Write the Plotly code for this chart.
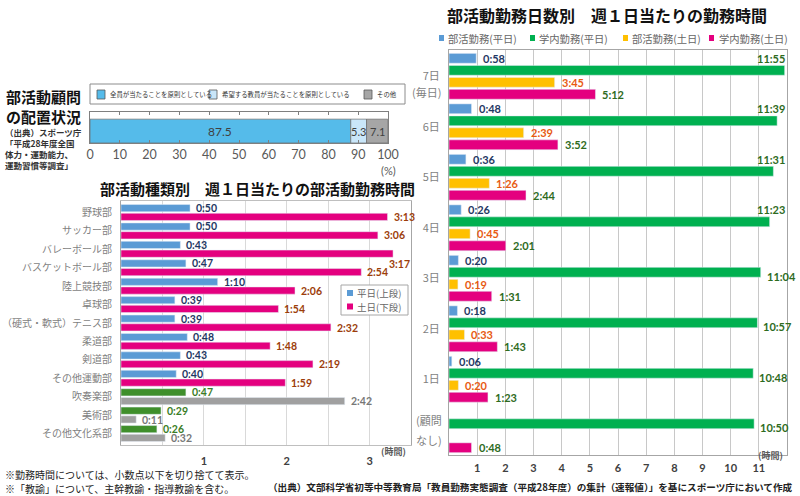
import plotly.graph_objects as go

W, H = 800, 496


def px(x):
    return x / W


def py(y):
    return 1 - y / H


def hours(t):
    if t is None:
        return None
    h, m = t.split(":")
    return int(h) + int(m) / 60


# ---------------- data ----------------
# 部活動顧問の配置状況 (%)
adv_labels = ["全員が当たることを原則としている", "希望する教員が当たることを原則としている", "その他"]
adv_values = [87.5, 5.3, 7.1]
pct_ticks = [0, 10, 20, 30, 40, 50, 60, 70, 80, 90, 100]

# 部活動種類別 週1日当たりの部活動勤務時間
club_names = ["野球部", "サッカー部", "バレーボール部", "バスケットボール部", "陸上競技部", "卓球部",
              "（硬式・軟式）テニス部", "柔道部", "剣道部", "その他運動部", "吹奏楽部", "美術部", "その他文化系部"]
culture_clubs = ["吹奏楽部", "美術部", "その他文化系部"]
club_weekday = ["0:50", "0:50", "0:43", "0:47", "1:10", "0:39", "0:39", "0:48", "0:43", "0:40", "0:47", "0:29", "0:26"]
club_weekend = ["3:13", "3:06", "3:17", "2:54", "2:06", "1:54", "2:32", "1:48", "2:19", "1:59", "2:42", "0:11", "0:32"]
club_legend = ["平日(上段)", "土日(下段)"]
club_hour_ticks = [0.5, 1, 1.5, 2, 2.5, 3, 3.5]
club_hour_text = ["", "1", "", "2", "", "3", ""]

# 部活動勤務日数別 週1日当たりの勤務時間
day_groups = ["7日", "6日", "5日", "4日", "3日", "2日", "1日", "(顧問なし)"]
day_tick_text = ["7日", "6日", "5日", "4日", "3日", "2日", "1日", ""]
series_names = ["部活勤務(平日)", "学内勤務(平日)", "部活勤務(土日)", "学内勤務(土日)"]
club_wd = ["0:58", "0:48", "0:36", "0:26", "0:20", "0:18", "0:06", None]
school_wd = ["11:55", "11:39", "11:31", "11:23", "11:04", "10:57", "10:48", "10:50"]
club_we = ["3:45", "2:39", "1:26", "0:45", "0:19", "0:33", "0:20", None]
school_we = ["5:12", "3:52", "2:44", "2:01", "1:31", "1:43", "1:23", "0:48"]
day_hour_ticks = [0, 1, 2, 3, 4, 5, 6, 7, 8, 9, 10, 11, 12]
day_hour_text = ["", "1", "2", "3", "4", "5", "6", "7", "8", "9", "10", "11", ""]

# ---------------- styles ----------------
CJK = "Noto Sans CJK JP"
NUM = "Lato, Noto Sans CJK JP"
LBL = 10.5
adv_colors = ["#55bbea", "#c9e6f9", "#a6a6a6"]
BLUE, MAGENTA, CGREEN, GRAY = "#5b9bd5", "#e4007f", "#3f8f2b", "#a0a0a0"
R_COLORS = ["#5b9bd5", "#00b050", "#ffc000", "#e4007f"]
R_LABEL = ["#1f3864", "#2e6b1e", "#e85a12", "#2e6b1e"]

fig = go.Figure()
ann = []
shapes = []

# ---------- top-left stacked bar ----------
bases = []
acc = 0
for v in adv_values:
    bases.append(acc)
    acc += v
fig.add_trace(go.Bar(
    x=adv_values, y=[0] * len(adv_values), base=bases, orientation="h", width=1,
    marker=dict(color=adv_colors, line=dict(color="#6b6b6b", width=0.7)),
    xaxis="x", yaxis="y", showlegend=False, hoverinfo="skip"))
for b, v in zip(bases, adv_values):
    ann.append(dict(x=b + v / 2, y=0, xref="x", yref="y", text=f"{v}", showarrow=False,
                    font=dict(family=NUM, size=12 if v > 20 else 11, color="#404040")))

# legend box of top chart
shapes.append(dict(type="rect", xref="paper", yref="paper", x0=px(90), x1=px(405), y0=py(104), y1=py(84),
                   line=dict(color="#8c8c8c", width=1), fillcolor="white", layer="below"))
leg_sq_x = [97, 209, 364]
leg_tx_x = [108, 220, 375]
for lab, col, sx, tx in zip(adv_labels, adv_colors, leg_sq_x, leg_tx_x):
    shapes.append(dict(type="rect", xref="paper", yref="paper", x0=px(sx), x1=px(sx + 8), y0=py(99), y1=py(90),
                       line=dict(color="#595959", width=0.8), fillcolor=col))
    ann.append(dict(x=px(tx), y=py(94.5), xref="paper", yref="paper", text=lab, showarrow=False,
                    xanchor="left", yanchor="middle", font=dict(family=CJK, size=6.4, color="#333333")))

ann.append(dict(x=px(388), y=py(170), xref="paper", yref="paper", text="(%)", showarrow=False,
                font=dict(family=NUM, size=11, color="#595959")))

# left headings
ann.append(dict(x=px(4), y=py(106), xref="paper", yref="paper", text="<b>部活動顧問<br>の配置状況</b>",
                showarrow=False, xanchor="left", yanchor="middle", align="left",
                font=dict(family=CJK, size=15, color="#111111")))
src_lines = ["（出典）スポーツ庁", "「平成28年度全国", "体力・運動能力、", "運動習慣等調査」"]
ann.append(dict(x=px(3), y=py(148.5), xref="paper", yref="paper", text="<b>" + "<br>".join(src_lines) + "</b>",
                showarrow=False, xanchor="left", yanchor="middle", align="left",
                font=dict(family=CJK, size=8.5, color="#333333")))

# ---------- bottom-left chart ----------
wd_h = [hours(t) for t in club_weekday]
we_h = [hours(t) for t in club_weekend]
wd_col = [CGREEN if n in culture_clubs else BLUE for n in club_names]
we_col = [GRAY if n in culture_clubs else MAGENTA for n in club_names]
fig.add_trace(go.Bar(x=wd_h, y=club_names, orientation="h", name=club_legend[0],
                     marker=dict(color=wd_col), xaxis="x2", yaxis="y2", showlegend=False, hoverinfo="skip"))
fig.add_trace(go.Bar(x=we_h, y=club_names, orientation="h", name=club_legend[1],
                     marker=dict(color=we_col), xaxis="x2", yaxis="y2", showlegend=False, hoverinfo="skip"))

L_SLOT = 4.5
for n, t, v in zip(club_names, club_weekday, wd_h):
    col = "#3a7d27" if n in culture_clubs else "#1f3864"
    ann.append(dict(x=v, y=n, xref="x2", yref="y2", text=f"<b>{t}</b>", showarrow=False, xanchor="left",
                    xshift=5, yshift=L_SLOT, borderpad=0, font=dict(family=NUM, size=LBL, color=col)))
for n, t, v in zip(club_names, club_weekend, we_h):
    col = "#777777" if n in culture_clubs else "#9c3d0a"
    if v > 3.25:
        a = dict(x=3.5, xanchor="right", xshift=0, yshift=-15)
    else:
        a = dict(x=v, xanchor="left", xshift=5, yshift=-L_SLOT)
    a.update(y=n, xref="x2", yref="y2", text=f"<b>{t}</b>", showarrow=False, borderpad=0,
             font=dict(family=NUM, size=LBL, color=col))
    ann.append(a)

ann.append(dict(x=px(98), y=py(188), xref="paper", yref="paper",
                text="<b>部活動種類別　週１日当たりの部活動勤務時間</b>", showarrow=False,
                xanchor="left", yanchor="middle", font=dict(family=CJK, size=15, color="#111111")))
ann.append(dict(x=px(393), y=py(460), xref="paper", yref="paper", text="<b>(時間)</b>", showarrow=False,
                font=dict(family=CJK, size=9, color="#595959")))

# legend box of bottom-left chart
shapes.append(dict(type="rect", xref="paper", yref="paper", x0=px(341), x1=px(408), y0=py(315), y1=py(285),
                   line=dict(color="#a6a6a6", width=1), fillcolor="white", layer="above"))
for i, (lab, col) in enumerate(zip(club_legend, [BLUE, MAGENTA])):
    yc = 293 + i * 13.5
    shapes.append(dict(type="rect", xref="paper", yref="paper", x0=px(347), x1=px(353), y0=py(yc + 3),
                       y1=py(yc - 3), line=dict(width=0), fillcolor=col, layer="above"))
    ann.append(dict(x=px(356), y=py(yc), xref="paper", yref="paper", text=lab,
                    showarrow=False, xanchor="left", yanchor="middle", borderpad=0,
                    font=dict(family=CJK, size=9.5, color="#666666")))

# ---------- right chart ----------
r_series = [club_wd, school_wd, club_we, school_we]
R_SLOT = [17.8, 5.9, -5.9, -17.8]
for k, (name, ser) in enumerate(zip(series_names, r_series)):
    vals = [hours(t) for t in ser]
    fig.add_trace(go.Bar(x=vals, y=day_groups, orientation="h", name=name,
                         marker=dict(color=R_COLORS[k]), xaxis="x3", yaxis="y3",
                         showlegend=False, hoverinfo="skip"))
    for g, t, v in zip(day_groups, ser, vals):
        if v is None:
            continue
        if k == 1:
            if v > 11.2:
                a = dict(x=12, xanchor="right", xshift=0, yshift=R_SLOT[0])
            else:
                a = dict(x=v, xanchor="left", xshift=4, yshift=2)
        else:
            a = dict(x=v, xanchor="left", xshift=5, yshift=R_SLOT[k])
        a.update(y=g, xref="x3", yref="y3", text=f"<b>{t}</b>", showarrow=False,
                 font=dict(family=NUM, size=LBL + 0.5, color=R_LABEL[k]))
        ann.append(a)

ann.append(dict(x=px(445), y=py(15), xref="paper", yref="paper",
                text="<b>部活動勤務日数別　週１日当たりの勤務時間</b>", showarrow=False,
                xanchor="left", yanchor="middle", font=dict(family=CJK, size=16, color="#111111")))
r_leg_sq = [439, 530, 623, 709]
r_leg_tx = [446, 537, 630, 717]
for name, col, sx, tx in zip(series_names, R_COLORS, r_leg_sq, r_leg_tx):
    shapes.append(dict(type="rect", xref="paper", yref="paper", x0=px(sx), x1=px(sx + 5), y0=py(41),
                       y1=py(35), line=dict(width=0), fillcolor=col))
    ann.append(dict(x=px(tx), y=py(38), xref="paper", yref="paper", text=name, showarrow=False,
                    xanchor="left", yanchor="middle", font=dict(family=CJK, size=10.3, color="#666666")))
ann.append(dict(x=px(443), y=py(92), xref="paper", yref="paper", text="(毎日)", showarrow=False,
                xanchor="right", yanchor="middle", font=dict(family=CJK, size=11, color="#7f7f7f")))
# two-line label of the "顧問なし" group, placed like the reference
ann.append(dict(x=px(443), y=py(420), xref="paper", yref="paper", text="(顧問", showarrow=False,
                xanchor="right", yanchor="middle", borderpad=0, font=dict(family=CJK, size=11, color="#7f7f7f")))
ann.append(dict(x=px(443), y=py(440), xref="paper", yref="paper", text="なし)", showarrow=False,
                xanchor="right", yanchor="middle", borderpad=0, font=dict(family=CJK, size=11, color="#7f7f7f")))
ann.append(dict(x=px(785), y=py(464), xref="paper", yref="paper", text="<b>(時間)</b>", showarrow=False,
                font=dict(family=CJK, size=9, color="#595959")))

# footnotes
ann.append(dict(x=px(3), y=py(474), xref="paper", yref="paper",
                text="※勤務時間については、小数点以下を切り捨てて表示。", showarrow=False,
                xanchor="left", yanchor="middle", font=dict(family=CJK, size=10, color="#222222")))
ann.append(dict(x=px(3), y=py(488), xref="paper", yref="paper",
                text="※「教諭」について、主幹教諭・指導教諭を含む。", showarrow=False,
                xanchor="left", yanchor="middle", font=dict(family=CJK, size=10, color="#222222")))
ann.append(dict(x=px(795), y=py(487), xref="paper", yref="paper",
                text="<b>（出典）文部科学省初等中等教育局「教員勤務実態調査（平成28年度）の集計（速報値）」を基にスポーツ庁において作成</b>",
                showarrow=False, xanchor="right", yanchor="middle",
                font=dict(family=CJK, size=9.6, color="#222222")))

common = dict(automargin=False, zeroline=False)
fig.update_layout(
    width=W, height=H, margin=dict(l=0, r=0, t=0, b=0, autoexpand=False),
    paper_bgcolor="white", plot_bgcolor="white",
    barmode="group", bargap=0.05, bargroupgap=0.18,
    showlegend=False,
    font=dict(family=CJK, size=11, color="#404040"),
    annotations=ann, shapes=shapes,
    xaxis=dict(domain=[px(90), px(388)], range=[0, 100], tickvals=pct_ticks, anchor="y",
               showline=True, mirror="ticks", linecolor="#7f7f7f", ticks="inside", ticklen=3,
               tickcolor="#7f7f7f", showgrid=False,
               tickfont=dict(family=NUM, size=12.5, color="#595959"), **common),
    yaxis=dict(domain=[py(143), py(112)], range=[-0.5, 0.8], anchor="x", showticklabels=False,
               showline=True, mirror=True, linecolor="#7f7f7f", showgrid=False, ticks="", **common),
    xaxis2=dict(domain=[px(121), px(411)], range=[0, 3.5], tickvals=club_hour_ticks, ticktext=club_hour_text,
                anchor="y2", showgrid=True, gridcolor="#d9d9d9", showline=True, mirror=True,
                linecolor="#bfbfbf", ticklabelstandoff=6, ticks="",
                tickfont=dict(family=NUM, size=11, color="#404040", weight="bold"), **common),
    yaxis2=dict(domain=[py(445), py(201)], categoryorder="array", categoryarray=club_names,
                autorange="reversed", anchor="x2", showline=True, mirror=True, linecolor="#a6a6a6",
                ticklabelstandoff=6, ticks="", showgrid=False,
                tickfont=dict(family=CJK, size=10, color="#7f7f7f"), **common),
    xaxis3=dict(domain=[px(449), px(787)], range=[0, 12], tickvals=day_hour_ticks, ticktext=day_hour_text,
                anchor="y3", showgrid=True, gridcolor="#c8c8c8", showline=True, mirror=True,
                linecolor="#a6a6a6", ticklabelstandoff=3, ticks="",
                tickfont=dict(family=NUM, size=11, color="#404040", weight="bold"), **common),
    yaxis3=dict(domain=[py(455), py(50)], categoryorder="array", categoryarray=day_groups,
                tickvals=day_groups, ticktext=day_tick_text, showgrid=False,
                autorange="reversed", anchor="x3", showline=True, mirror=True, linecolor="#a6a6a6",
                ticklabelstandoff=6, ticks="", tickfont=dict(family=CJK, size=11, color="#7f7f7f"), **common),
)

fig.write_html("out.html", config={"displayModeBar": False},
               post_script="document.body.style.margin='0';document.body.style.overflow='hidden';")
